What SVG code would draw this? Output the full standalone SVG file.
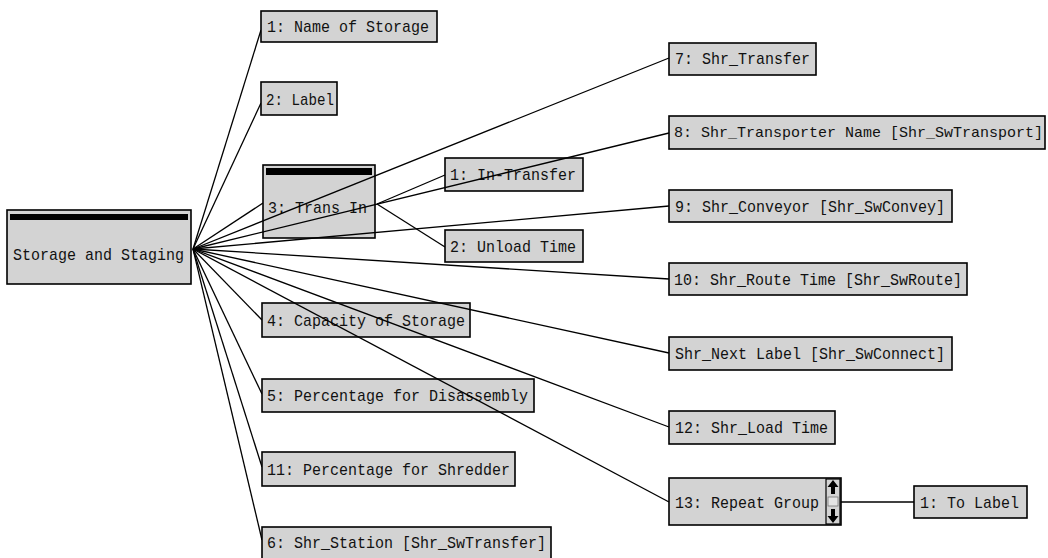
<svg xmlns="http://www.w3.org/2000/svg" width="1048" height="558" viewBox="0 0 1048 558">
<style>
.bg{fill:#ffffff}
.box{fill:#d3d3d3;stroke:#000;stroke-width:1.6}
.bar{fill:#000}
.t{font-family:"Liberation Mono","DejaVu Sans Mono",monospace;font-size:17px;fill:#111}
.s{font-size:15px}
.c{stroke:#000;stroke-width:1.3;fill:none}
.sb{fill:#d3d3d3;stroke:#000;stroke-width:1.2}
</style>
<rect class="bg" x="0" y="0" width="1048" height="558"/>
<g id="connectors">
<line class="c" x1="193" y1="249" x2="261" y2="30"/>
<line class="c" x1="193" y1="249" x2="261" y2="103"/>
<line class="c" x1="193" y1="249" x2="263" y2="203"/>
<line class="c" x1="193" y1="249" x2="262" y2="320"/>
<line class="c" x1="193" y1="249" x2="262" y2="394"/>
<line class="c" x1="193" y1="249" x2="262" y2="467"/>
<line class="c" x1="193" y1="249" x2="262" y2="540"/>
<line class="c" x1="377" y1="204" x2="445" y2="175"/>
<line class="c" x1="377" y1="204" x2="445" y2="247"/>
<line class="c" x1="841" y1="502" x2="914" y2="502"/>
</g>
<g id="n-storage"><rect class="box" x="7" y="210" width="184" height="74"/><rect class="bar" x="10" y="214" width="178" height="6"/><text class="t" x="13" y="260" textLength="171" lengthAdjust="spacingAndGlyphs">Storage and Staging</text></g>
<g id="n1"><rect class="box" x="261" y="11" width="176" height="31"/><text class="t" x="267" y="32" textLength="162" lengthAdjust="spacingAndGlyphs">1: Name of Storage</text></g>
<g id="n2"><rect class="box" x="261" y="82" width="76" height="33"/><text class="t" x="266" y="105" textLength="68" lengthAdjust="spacingAndGlyphs">2: Label</text></g>
<g id="n3"><rect class="box" x="263" y="165" width="112" height="73"/><rect class="bar" x="266" y="168" width="106" height="7"/><text class="t" x="268" y="213" textLength="99" lengthAdjust="spacingAndGlyphs">3: Trans In</text></g>
<g id="n3-1"><rect class="box" x="445" y="158" width="138" height="33"/><text class="t" x="450" y="180" textLength="126" lengthAdjust="spacingAndGlyphs">1: In-Transfer</text></g>
<g id="n3-2"><rect class="box" x="445" y="230" width="138" height="32"/><text class="t" x="450" y="252" textLength="126" lengthAdjust="spacingAndGlyphs">2: Unload Time</text></g>
<g id="n4"><rect class="box" x="262" y="303" width="208" height="34"/><text class="t" x="267" y="326" textLength="198" lengthAdjust="spacingAndGlyphs">4: Capacity of Storage</text></g>
<g id="n5"><rect class="box" x="262" y="379" width="272" height="33"/><text class="t" x="267" y="401" textLength="261" lengthAdjust="spacingAndGlyphs">5: Percentage for Disassembly</text></g>
<g id="n11"><rect class="box" x="262" y="452" width="253" height="34"/><text class="t" x="267" y="475" textLength="243" lengthAdjust="spacingAndGlyphs">11: Percentage for Shredder</text></g>
<g id="n6"><rect class="box" x="262" y="527" width="289" height="34"/><text class="t" x="267" y="548" textLength="279" lengthAdjust="spacingAndGlyphs">6: Shr_Station [Shr_SwTransfer]</text></g>
<g id="n7"><rect class="box" x="669" y="43" width="147" height="32"/><text class="t" x="675" y="64" textLength="135" lengthAdjust="spacingAndGlyphs">7: Shr_Transfer</text></g>
<g id="n8"><rect class="box" x="669" y="116" width="376" height="33"/><text class="t s" x="674" y="137">8: Shr_Transporter Name [Shr_SwTransport]</text></g>
<g id="n9"><rect class="box" x="669" y="190" width="283" height="32"/><text class="t" x="675" y="212" textLength="270" lengthAdjust="spacingAndGlyphs">9: Shr_Conveyor [Shr_SwConvey]</text></g>
<g id="n10"><rect class="box" x="669" y="263" width="298" height="32"/><text class="t" x="674" y="285" textLength="288" lengthAdjust="spacingAndGlyphs">10: Shr_Route Time [Shr_SwRoute]</text></g>
<g id="n-next"><rect class="box" x="669" y="337" width="283" height="33"/><text class="t" x="675" y="359" textLength="270" lengthAdjust="spacingAndGlyphs">Shr_Next Label [Shr_SwConnect]</text></g>
<g id="n12"><rect class="box" x="669" y="411" width="166" height="33"/><text class="t" x="675" y="433" textLength="153" lengthAdjust="spacingAndGlyphs">12: Shr_Load Time</text></g>
<g id="n13"><rect class="box" x="669" y="478" width="172" height="47"/><text class="t" x="675" y="508" textLength="144" lengthAdjust="spacingAndGlyphs">13: Repeat Group</text>
<rect class="sb" x="826" y="479" width="14" height="45"/>
<path d="M833 480 L827.5 487 L831 487 L831 494 L835 494 L835 487 L838.5 487 Z" fill="#000"/>
<rect x="828" y="497" width="10" height="9" fill="#e4e4e4" stroke="#777" stroke-width="0.8"/>
<path d="M833 523 L827.5 516 L831 516 L831 509 L835 509 L835 516 L838.5 516 Z" fill="#000"/>
</g>
<g id="n13-1"><rect class="box" x="914" y="486" width="113" height="32"/><text class="t" x="920" y="508" textLength="99" lengthAdjust="spacingAndGlyphs">1: To Label</text></g>
<g id="connectors-over">
<line class="c" x1="193" y1="249" x2="669" y2="58"/>
<line class="c" x1="193" y1="249" x2="669" y2="133"/>
<line class="c" x1="193" y1="249" x2="669" y2="206"/>
<line class="c" x1="193" y1="249" x2="669" y2="279"/>
<line class="c" x1="193" y1="249" x2="669" y2="353"/>
<line class="c" x1="193" y1="249" x2="669" y2="427"/>
<line class="c" x1="193" y1="249" x2="669" y2="502"/>
</g>
</svg>
